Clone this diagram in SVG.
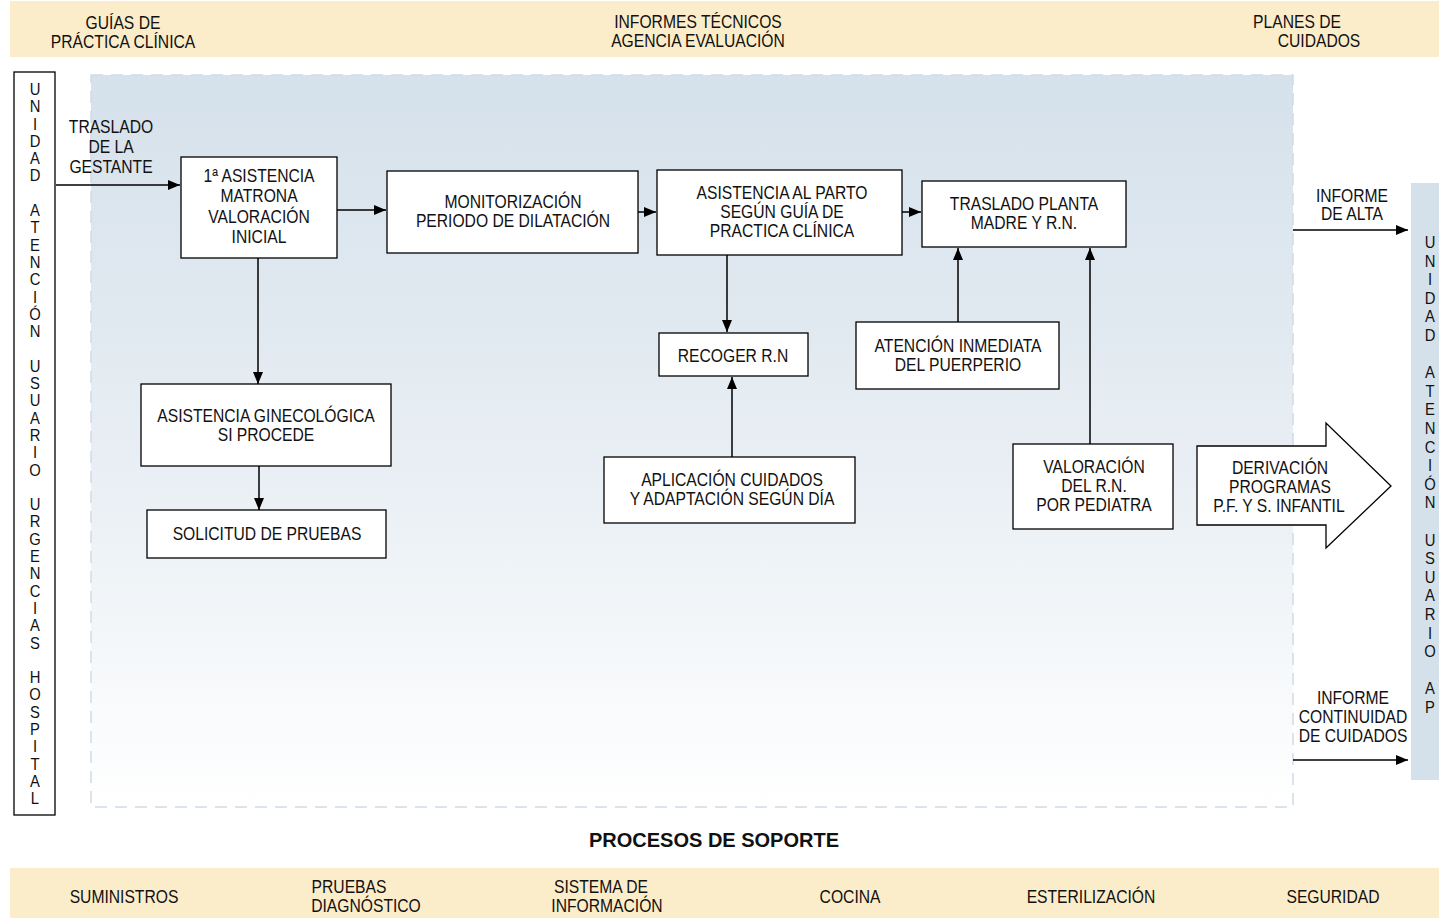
<svg xmlns="http://www.w3.org/2000/svg" width="1439" height="918" viewBox="0 0 1439 918">
<defs>
<linearGradient id="bg" x1="0" y1="0" x2="0" y2="1">
<stop offset="0" stop-color="#d5e1eb"/>
<stop offset="0.55" stop-color="#e9eff4"/>
<stop offset="1" stop-color="#ffffff"/>
</linearGradient>
<marker id="ah" viewBox="0 0 12 10" refX="12" refY="5" markerWidth="12" markerHeight="10" markerUnits="userSpaceOnUse" orient="auto">
<path d="M0,0 L12,5 L0,10 Z" fill="#000"/>
</marker>
<style>
text{font-family:"Liberation Sans",Arial,sans-serif;font-size:18px;fill:#111;transform-box:fill-box;transform-origin:center;transform:scaleX(0.87);text-anchor:middle;}
.v{font-size:17px;}
.b{font-weight:bold;font-size:20px;transform:none;}
.box{fill:#fff;stroke:#000;stroke-width:1.3;}
.band{fill:#fcedca;}
.conn line{stroke:#000;stroke-width:1.5;marker-end:url(#ah);}
</style>
</defs>

<rect class="band" x="10" y="1" width="1429" height="56"/>
<rect class="band" x="10" y="868" width="1429" height="50"/>

<rect x="91" y="75" width="1202" height="732" fill="url(#bg)" stroke="#d0dce7" stroke-width="1.5" stroke-dasharray="12 8"/>

<g id="top-labels">
<text x="123" y="29">GUÍAS DE</text>
<text x="123" y="48">PRÁCTICA CLÍNICA</text>
<text x="698" y="28">INFORMES TÉCNICOS</text>
<text x="698" y="47">AGENCIA EVALUACIÓN</text>
<text x="1297" y="28">PLANES DE</text>
<text x="1319" y="47">CUIDADOS</text>
</g>

<g id="unidad-urgencias">
<rect class="box" x="14" y="72" width="41" height="743"/>
<text class="v"><tspan x="35" y="95">U</tspan><tspan x="35" y="112.3">N</tspan><tspan x="35" y="129.6">I</tspan><tspan x="35" y="146.9">D</tspan><tspan x="35" y="164.2">A</tspan><tspan x="35" y="181.5">D</tspan><tspan x="35" y="216.1">A</tspan><tspan x="35" y="233.4">T</tspan><tspan x="35" y="250.7">E</tspan><tspan x="35" y="268">N</tspan><tspan x="35" y="285.3">C</tspan><tspan x="35" y="302.6">I</tspan><tspan x="35" y="319.9">Ó</tspan><tspan x="35" y="337.2">N</tspan><tspan x="35" y="371.8">U</tspan><tspan x="35" y="389.1">S</tspan><tspan x="35" y="406.4">U</tspan><tspan x="35" y="423.7">A</tspan><tspan x="35" y="441">R</tspan><tspan x="35" y="458.3">I</tspan><tspan x="35" y="475.6">O</tspan><tspan x="35" y="510.2">U</tspan><tspan x="35" y="527.5">R</tspan><tspan x="35" y="544.8">G</tspan><tspan x="35" y="562.1">E</tspan><tspan x="35" y="579.4">N</tspan><tspan x="35" y="596.7">C</tspan><tspan x="35" y="614">I</tspan><tspan x="35" y="631.3">A</tspan><tspan x="35" y="648.6">S</tspan><tspan x="35" y="683.2">H</tspan><tspan x="35" y="700.5">O</tspan><tspan x="35" y="717.8">S</tspan><tspan x="35" y="735.1">P</tspan><tspan x="35" y="752.4">I</tspan><tspan x="35" y="769.7">T</tspan><tspan x="35" y="787">A</tspan><tspan x="35" y="804.3">L</tspan></text>
</g>

<g id="unidad-ap">
<rect x="1411" y="183" width="28" height="597" fill="#d5e1ea"/>
<text class="v"><tspan x="1430" y="248">U</tspan><tspan x="1430" y="266.6">N</tspan><tspan x="1430" y="285.2">I</tspan><tspan x="1430" y="303.8">D</tspan><tspan x="1430" y="322.4">A</tspan><tspan x="1430" y="341">D</tspan><tspan x="1430" y="378.2">A</tspan><tspan x="1430" y="396.8">T</tspan><tspan x="1430" y="415.4">E</tspan><tspan x="1430" y="434">N</tspan><tspan x="1430" y="452.6">C</tspan><tspan x="1430" y="471.2">I</tspan><tspan x="1430" y="489.8">Ó</tspan><tspan x="1430" y="508.4">N</tspan><tspan x="1430" y="545.6">U</tspan><tspan x="1430" y="564.2">S</tspan><tspan x="1430" y="582.8">U</tspan><tspan x="1430" y="601.4">A</tspan><tspan x="1430" y="620">R</tspan><tspan x="1430" y="638.6">I</tspan><tspan x="1430" y="657.2">O</tspan><tspan x="1430" y="694.4">A</tspan><tspan x="1430" y="713">P</tspan></text>
</g>

<g id="n-asistencia-matrona">
<rect class="box" x="181" y="157" width="156" height="101"/>
<text x="259" y="182">1ª ASISTENCIA</text>
<text x="259" y="202">MATRONA</text>
<text x="259" y="223">VALORACIÓN</text>
<text x="259" y="243">INICIAL</text>
</g>

<g id="n-monitorizacion">
<rect class="box" x="387" y="171" width="251" height="82"/>
<text x="513" y="208">MONITORIZACIÓN</text>
<text x="513" y="227">PERIODO DE DILATACIÓN</text>
</g>

<g id="n-asistencia-parto">
<rect class="box" x="657" y="170" width="245" height="85"/>
<text x="782" y="199">ASISTENCIA AL PARTO</text>
<text x="782" y="218">SEGÚN GUÍA DE</text>
<text x="782" y="237">PRACTICA CLÍNICA</text>
</g>

<g id="n-traslado-planta">
<rect class="box" x="922" y="181" width="204" height="66"/>
<text x="1024" y="210">TRASLADO PLANTA</text>
<text x="1024" y="229">MADRE Y R.N.</text>
</g>

<g id="n-asistencia-ginecologica">
<rect class="box" x="141" y="384" width="250" height="82"/>
<text x="266" y="422">ASISTENCIA GINECOLÓGICA</text>
<text x="266" y="441">SI PROCEDE</text>
</g>

<g id="n-solicitud-pruebas">
<rect class="box" x="147" y="510" width="239" height="48"/>
<text x="267" y="540">SOLICITUD DE PRUEBAS</text>
</g>

<g id="n-recoger-rn">
<rect class="box" x="659" y="333" width="149" height="43"/>
<text x="733" y="362">RECOGER R.N</text>
</g>

<g id="n-aplicacion-cuidados">
<rect class="box" x="604" y="457" width="251" height="66"/>
<text x="732" y="486">APLICACIÓN CUIDADOS</text>
<text x="732" y="505">Y ADAPTACIÓN SEGÚN DÍA</text>
</g>

<g id="n-atencion-puerperio">
<rect class="box" x="856" y="322" width="203" height="67"/>
<text x="958" y="352">ATENCIÓN INMEDIATA</text>
<text x="958" y="371">DEL PUERPERIO</text>
</g>

<g id="n-valoracion-rn">
<rect class="box" x="1013" y="444" width="160" height="85"/>
<text x="1094" y="473">VALORACIÓN</text>
<text x="1094" y="492">DEL R.N.</text>
<text x="1094" y="511">POR PEDIATRA</text>
</g>

<g id="n-derivacion">
<path class="box" d="M1197,446 L1326,446 L1326,423 L1391,486 L1326,548 L1326,525 L1197,525 Z"/>
<text x="1280" y="474">DERIVACIÓN</text>
<text x="1280" y="493">PROGRAMAS</text>
<text x="1279" y="512">P.F. Y S. INFANTIL</text>
</g>

<g id="connectors" class="conn">
<line x1="56" y1="185" x2="180" y2="185"/>
<line x1="337" y1="210" x2="386" y2="210"/>
<line x1="638" y1="212" x2="656" y2="212"/>
<line x1="902" y1="212" x2="921" y2="212"/>
<line x1="258" y1="258" x2="258" y2="384"/>
<line x1="259" y1="466" x2="259" y2="510"/>
<line x1="727" y1="255" x2="727" y2="332"/>
<line x1="732" y1="457" x2="732" y2="377"/>
<line x1="958" y1="322" x2="958" y2="248"/>
<line x1="1090" y1="444" x2="1090" y2="248"/>
<line x1="1293" y1="230" x2="1408" y2="230"/>
<line x1="1293" y1="760" x2="1408" y2="760"/>
</g>

<g id="connector-labels">
<text x="111" y="133">TRASLADO</text>
<text x="111" y="153">DE LA</text>
<text x="111" y="173">GESTANTE</text>
<text x="1352" y="202">INFORME</text>
<text x="1352" y="220">DE ALTA</text>
<text x="1353" y="704">INFORME</text>
<text x="1353" y="723">CONTINUIDAD</text>
<text x="1353" y="742">DE CUIDADOS</text>
</g>

<g id="soporte">
<text class="b" x="714" y="847">PROCESOS DE SOPORTE</text>
<text x="124" y="903">SUMINISTROS</text>
<text x="349" y="893">PRUEBAS</text>
<text x="366" y="912">DIAGNÓSTICO</text>
<text x="601" y="893">SISTEMA DE</text>
<text x="607" y="912">INFORMACIÓN</text>
<text x="850" y="903">COCINA</text>
<text x="1091" y="903">ESTERILIZACIÓN</text>
<text x="1333" y="903">SEGURIDAD</text>
</g>
</svg>
